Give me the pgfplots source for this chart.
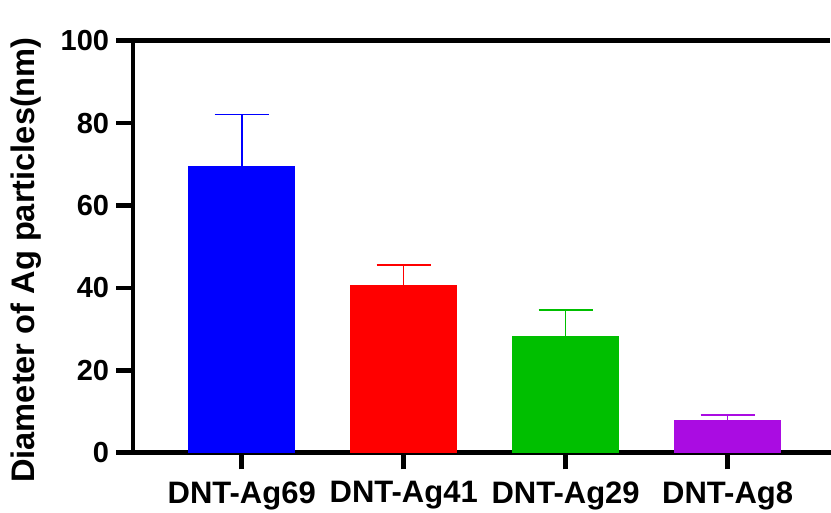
\documentclass[border=0pt]{standalone}
\usepackage{pgfplots}
\pgfplotsset{compat=1.18}
\usepackage{fontspec}
\setmainfont{Liberation Sans}
\definecolor{cblue}{RGB}{0,0,255}
\definecolor{cred}{RGB}{255,0,0}
\definecolor{cgreen}{RGB}{0,191,0}
\definecolor{cpurple}{RGB}{170,12,226}
\begin{document}
\begin{tikzpicture}
\path[use as bounding box] (0,0) rectangle (415.5pt,-256.5pt);
\begin{axis}[
  at={(66.35pt,-226.35pt)}, anchor=south west,
  scale only axis, width=348.65pt, height=206pt,
  xmin=-0.673, xmax=3.632, ymin=0, ymax=100,
  axis lines=left, clip=false,
  x axis line style={-, line width=2.3pt, line cap=rect},
  y axis line style={-, line width=2.0pt},
  tick style={line width=2.3pt, black},
  major tick length=8.3pt, tick align=outside,
  minor tick num=0,
  ytick={0,20,40,60,80,100},
  xtick={0,1,2,3},
  xticklabels={DNT-Ag69,DNT-Ag41,DNT-Ag29,DNT-Ag8},
  /pgf/number format/assume math mode=true,
  yticklabel style={font=\bfseries\fontsize{14.5}{17}\selectfont},
  xticklabel style={font=\bfseries\fontsize{15.5}{18}\selectfont, yshift=-2.5pt},
  ylabel={Diameter of Ag particles(nm)},
  ylabel style={font=\bfseries\fontsize{16.3}{19}\selectfont, at={(rel axis cs:-0.1534,0.4677)}, anchor=center},
  ybar, bar width=52.8pt,
  every axis plot/.append style={line width=0.7pt},
  error bars/error mark options={rotate=90, mark size=13.5pt, line width=0.8pt},
]
\addplot[bar shift=0pt, color=cblue, fill=cblue,
  error bars/.cd, y dir=plus, y explicit, error bar style={color=cblue, line width=0.8pt}]
  coordinates {(0,69.4) +- (0,12.7)};
\addplot[bar shift=0pt, color=cred, fill=cred,
  error bars/.cd, y dir=plus, y explicit, error bar style={color=cred, line width=0.8pt}]
  coordinates {(1,40.5) +- (0,5.1)};
\addplot[bar shift=0pt, color=cgreen, fill=cgreen,
  error bars/.cd, y dir=plus, y explicit, error bar style={color=cgreen, line width=0.8pt}]
  coordinates {(2,28.2) +- (0,6.4)};
\addplot[bar shift=0pt, color=cpurple, fill=cpurple,
  error bars/.cd, y dir=plus, y explicit, error bar style={color=cpurple, line width=0.8pt}]
  coordinates {(3,7.8) +- (0,1.4)};
\draw[line width=2.3pt] ([xshift=-8.3pt]rel axis cs:0,1) -- (rel axis cs:1,1);
\draw[line width=2.3pt] ([xshift=-8.3pt]rel axis cs:0,0) -- (rel axis cs:0,0);
\end{axis}
\end{tikzpicture}
\end{document}
